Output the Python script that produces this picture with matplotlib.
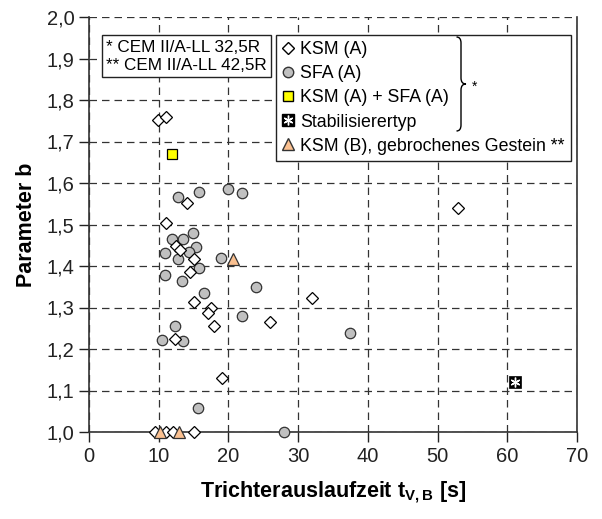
"""Parameter b vs. Trichterauslaufzeit scatter (KSM / SFA mixes)."""
import matplotlib

matplotlib.use("Agg")
import matplotlib.pyplot as plt
from matplotlib.lines import Line2D
from matplotlib.path import Path
from matplotlib.patches import PathPatch

plt.rcParams["font.family"] = ["Liberation Sans", "DejaVu Sans"]
plt.rcParams["mathtext.fontset"] = "custom"
plt.rcParams["mathtext.rm"] = "Liberation Sans"
plt.rcParams["mathtext.bf"] = "Liberation Sans:bold"

# KSM (A)
ksm_t = [9.95, 11.1, 14.0, 11.05, 12.5, 13.1, 15.1, 14.5, 15.0, 17.5, 17.0,
         17.9, 26.0, 31.95, 12.4, 19.1, 53.0, 9.4, 11.05, 12.0, 15.0]
ksm_b = [1.753, 1.758, 1.551, 1.504, 1.448, 1.439, 1.417, 1.385, 1.313, 1.300, 1.286,
         1.256, 1.266, 1.324, 1.223, 1.131, 1.540, 1.0, 1.0, 1.0, 1.0]

# SFA (A)
sfa_t = [12.8, 15.8, 19.9, 22.0, 14.9, 11.9, 13.5, 15.4, 10.9, 14.3, 12.8, 19.0,
         15.8, 10.95, 13.4, 16.5, 23.9, 22.0, 12.3, 10.4, 13.5, 37.4, 15.6, 28.0]
sfa_b = [1.567, 1.579, 1.585, 1.575, 1.479, 1.465, 1.465, 1.445, 1.432, 1.434, 1.416, 1.419,
         1.394, 1.378, 1.365, 1.336, 1.349, 1.280, 1.256, 1.222, 1.219, 1.238, 1.057, 1.0]

# KSM (A) + SFA (A)
mix_t = [11.9]
mix_b = [1.669]

# Stabilisierertyp
stab_t = [61.1]
stab_b = [1.121]

# KSM (B), gebrochenes Gestein
ksmb_t = [20.6, 10.2, 12.9]
ksmb_b = [1.417, 1.0, 1.0]

W, H = 602, 519
fig = plt.figure(figsize=(W / 100, H / 100), dpi=100)
ax = fig.add_axes([89 / W, 1 - 432 / H, (577 - 89) / W, (432 - 17) / H])

ax.set_xlim(0, 70)
ax.set_ylim(1.0, 2.0)
ax.set_xticks(range(0, 71, 10))
ax.set_yticks([1.0 + 0.1 * i for i in range(11)])
ax.set_yticklabels([f"{1.0 + 0.1 * i:.1f}".replace(".", ",") for i in range(11)])
ax.tick_params(labelsize=14.5, colors="#222222", length=7, width=1)
ax.grid(True, color="#333333", linestyle=(0, (6, 4)), linewidth=0.9)
ax.set_axisbelow(True)
ax.spines["top"].set_visible(False)
for side in ("left", "bottom", "right"):
    ax.spines[side].set_color("#333333")
    ax.spines[side].set_linewidth(1.2)

kw = dict(linestyle="", clip_on=False, zorder=3)
ax.plot(sfa_t, sfa_b, marker="o", ms=7.5, mfc="#c0c0c0", mec="#333333", mew=0.9, **kw)
ax.plot(ksm_t, ksm_b, marker="D", ms=6.5, mfc="white", mec="black", mew=0.9, **kw)
ax.plot(mix_t, mix_b, marker="s", ms=7.5, mfc="#ffff00", mec="black", mew=0.9, **kw)
ax.plot(ksmb_t, ksmb_b, marker="^", ms=9, mfc="#fac090", mec="#333333", mew=0.9, **kw)
ax.plot(stab_t, stab_b, marker="s", ms=8.5, mfc="black", mec="black", mew=0.5, **kw)
ax.plot(stab_t, stab_b, marker=(6, 2, 0), ms=7, mec="white", mew=1.0, **kw)

ax.set_xlabel(r"Trichterauslaufzeit $\mathbf{t_{V,B}}$ [s]", fontsize=15.5,
              fontweight="bold", labelpad=10)
ax.set_ylabel("Parameter b", fontsize=15.5, fontweight="bold", labelpad=7)

handles = [
    Line2D([], [], linestyle="", marker="D", ms=6.5, mfc="white", mec="black"),
    Line2D([], [], linestyle="", marker="o", ms=7.5, mfc="#c0c0c0", mec="#333333"),
    Line2D([], [], linestyle="", marker="s", ms=7.5, mfc="#ffff00", mec="black"),
    (Line2D([], [], linestyle="", marker="s", ms=8.5, mfc="black", mec="black"),
     Line2D([], [], linestyle="", marker=(6, 2, 0), ms=7, mec="white", mew=1.0)),
    Line2D([], [], linestyle="", marker="^", ms=9, mfc="#fac090", mec="#333333"),
]
labels = ["KSM (A)", "SFA (A)", "KSM (A) + SFA (A)", "Stabilisierertyp",
          "KSM (B), gebrochenes Gestein **"]
leg = ax.legend(handles, labels, loc="upper left", bbox_to_anchor=(276 / W, 1 - 35 / H),
                bbox_transform=fig.transFigure, fontsize=12.8, frameon=True, fancybox=False,
                edgecolor="#222222", framealpha=1, borderpad=0.35, handlelength=0.7,
                handletextpad=0.3, labelspacing=0.4, borderaxespad=0)
leg.get_frame().set_linewidth(1.0)

# notes box
fig.text(106 / W, 1 - 56 / H, "* CEM II/A-LL 32,5R\n** CEM II/A-LL 42,5R", fontsize=12.3,
         va="center", ha="left", linespacing=1.25,
         bbox=dict(boxstyle="square,pad=0.25", fc="white", ec="#222222", lw=1.0))

# curly brace grouping the first four entries (pixel coordinates)
x0, xm, xt = 456.5, 461.0, 466.0
y0, ym, y1 = 37.0, 84.0, 131.0
brace_px = [(x0, y0),
            (xm, y0), (xm, y0 + 6),
            (xm, ym - 6),
            (xm, ym), (xt, ym),
            (xm, ym), (xm, ym + 6),
            (xm, y1 - 6),
            (xm, y1), (x0, y1)]
brace_codes = [Path.MOVETO,
               Path.CURVE3, Path.CURVE3,
               Path.LINETO,
               Path.CURVE3, Path.CURVE3,
               Path.CURVE3, Path.CURVE3,
               Path.LINETO,
               Path.CURVE3, Path.CURVE3]
brace = Path([(px / W, 1 - py / H) for px, py in brace_px], brace_codes)
fig.add_artist(PathPatch(brace, fc="none", ec="black", lw=1.0, transform=fig.transFigure))
fig.text(472 / W, 1 - 87 / H, "*", fontsize=10, ha="left", va="center")

fig.savefig("out.png", dpi=100)
